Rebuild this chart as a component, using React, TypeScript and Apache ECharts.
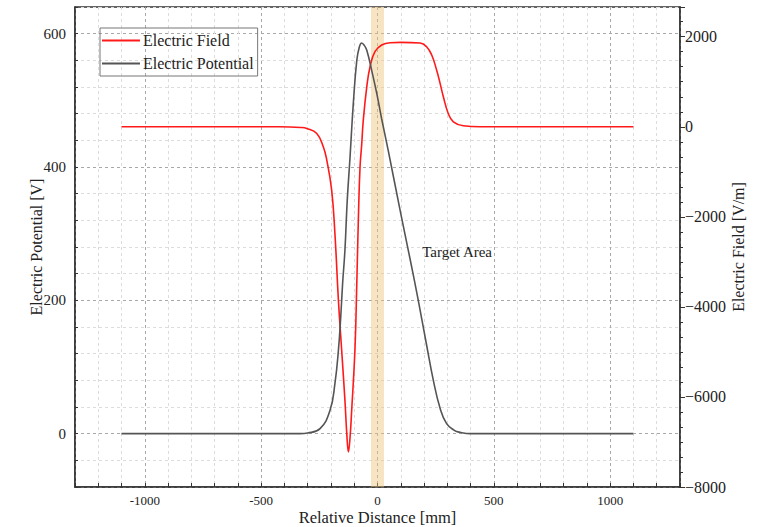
import React, { useEffect, useRef } from "react";
import * as echarts from "echarts";

const potentialX = [-1100, -400, -333, -300, -247, -204, -183, -168, -158, -150, -140, -130, -118, -104, -89, -78, -68, -56, -46, -25, -3, 18, 46, 100, 140, 173, 211, 240, 269, 297, 330, 355, 400, 1100];
const potentialV = [0, 0, 0, 1, 7.5, 35, 75, 125, 175, 225, 275, 350, 415, 495, 560, 580, 586, 582, 575, 545, 510, 472, 425, 330, 262, 204, 133, 80, 38, 15, 5, 2, 0, 0];

const fieldX = [-1100, -420, -330, -304, -261, -233, -218, -197, -183, -168, -154, -140, -132, -125, -118, -111, -97, -89, -82, -75, -68, -61, -46, -32, -11, 18, 54, 100, 183, 211, 233, 254, 269, 283, 304, 326, 369, 441, 1100];
const fieldE = [0, 0, -15, -37, -150, -444, -740, -1407, -2370, -3850, -4960, -6070, -6815, -7220, -6900, -6300, -4960, -3480, -2000, -888, -400, 150, 890, 1333, 1667, 1815, 1867, 1875, 1860, 1778, 1593, 1260, 964, 667, 296, 111, 22, 0, 0];

const xLabels = [-1000, -500, 0, 500, 1000];
const leftLabels = [0, 200, 400, 600];
const rightLabels = [-8000, -6000, -4000, -2000, 0, 2000];
const bandRange = [-28, 28];
const annotation = { text: "Target Area", x: 342, v: 272 };

const FONT = "Liberation Serif";

export default function App() {
  const ref = useRef<HTMLDivElement>(null);
  useEffect(() => {
    const chart = echarts.init(ref.current!, null, { renderer: "svg" });
    const minorC = "#dcdcdc";
    const majorC = "#a8a8a8";
    chart.setOption({
      animation: false,
      backgroundColor: "#fff",
      textStyle: { fontFamily: FONT, color: "#222" },
      grid: {
        left: 75, right: 89, top: 7, bottom: 40,
        containLabel: false, outerBoundsMode: "none",
        show: true, borderColor: "#333", borderWidth: 1.5, backgroundColor: "transparent",
      },
      legend: {
        left: 100,
        top: 28,
        orient: "vertical",
        borderColor: "#777",
        borderWidth: 1,
        padding: [3, 4, 3, 2],
        itemGap: 4,
        itemWidth: 38,
        itemHeight: 2,
        icon: "rect",
        textStyle: { fontFamily: FONT, fontSize: 16, color: "#222", padding: [0, 0, 0, -2], lineHeight: 19 },
        data: ["Electric Field", "Electric Potential"],
      },
      xAxis: {
        type: "value",
        min: -1300,
        max: 1300,
        interval: 100,
        name: "Relative Distance [mm]",
        nameLocation: "middle",
        nameGap: 22,
        nameMoveOverlap: false,
        nameTextStyle: { fontFamily: FONT, fontSize: 16.5, color: "#222" },
        axisLine: { show: true, onZero: false, lineStyle: { color: "#333", width: 1.5 } },
        axisTick: { show: true, inside: true, length: 4, lineStyle: { color: "#333" } },
        axisLabel: {
          fontFamily: FONT,
          fontSize: 13,
          color: "#222",
          margin: 7,
          formatter: (v: number) => (xLabels.includes(v) ? String(v) : ""),
        },
        splitLine: { show: true, lineStyle: { type: [3, 3], color: [minorC, minorC, minorC, majorC, minorC], width: 1 } },
      },
      yAxis: [
        {
          type: "value",
          position: "left",
          min: -80,
          max: 640,
          interval: 40,
          name: "Electric Potential [V]",
          nameLocation: "middle",
          nameGap: 31,
          nameMoveOverlap: false,
          nameTextStyle: { fontFamily: FONT, fontSize: 16, color: "#222" },
          axisLine: { show: true, onZero: false, lineStyle: { color: "#333", width: 1.5 } },
          axisTick: { show: true, inside: true, length: 3, lineStyle: { color: "#333" } },
          axisLabel: {
            fontFamily: FONT,
            fontSize: 15,
            color: "#222",
            margin: 9,
            formatter: (v: number) => (leftLabels.includes(v) ? String(v) : ""),
          },
          splitLine: { show: true, lineStyle: { type: [3, 3], color: [minorC, minorC, majorC, minorC, minorC], width: 1 } },
        },
        {
          type: "value",
          position: "right",
          min: -8000,
          max: 2660,
          interval: 2000,
          name: "Electric Field [V/m]",
          nameLocation: "middle",
          nameGap: 50,
          nameMoveOverlap: false,
          nameTextStyle: { fontFamily: FONT, fontSize: 16, color: "#222" },
          axisLine: { show: true, onZero: false, lineStyle: { color: "#333", width: 1.5 } },
          axisTick: { show: true, length: 5, lineStyle: { color: "#333" } },
          minorTick: { show: true, splitNumber: 6, length: 3, lineStyle: { color: "#333" } },
          axisLabel: {
            fontFamily: FONT,
            fontSize: 16,
            color: "#222",
            margin: 5,
            formatter: (v: number) => (rightLabels.includes(v) ? (v < 0 ? "\u2212" + Math.abs(v) : String(v)) : ""),
          },
          splitLine: { show: false },
        },
      ],
      series: [
        {
          name: "Electric Field",
          type: "line",
          yAxisIndex: 1,
          symbol: "none",
          smooth: 0.45,
          color: "#ff1a1a",
          lineStyle: { width: 1.6, color: "#ff1a1a" },
          data: fieldX.map((x, i) => [x, fieldE[i]]),
          z: 3,
        },
        {
          name: "Electric Potential",
          type: "line",
          yAxisIndex: 0,
          symbol: "none",
          smooth: 0.45,
          color: "#555555",
          lineStyle: { width: 1.6, color: "#555555" },
          data: potentialX.map((x, i) => [x, potentialV[i]]),
          z: 4,
          markArea: {
            silent: true,
            itemStyle: { color: "rgba(238,196,120,0.45)" },
            data: [[{ xAxis: bandRange[0] }, { xAxis: bandRange[1] }]],
          },
          markPoint: {
            silent: true,
            symbol: "circle",
            symbolSize: 0,
            label: { show: true, position: "inside", formatter: annotation.text, fontFamily: FONT, fontSize: 15, color: "#222" },
            data: [{ coord: [annotation.x, annotation.v] }],
          },
        },
      ],
    });
    return () => chart.dispose();
  }, []);
  return <div ref={ref} style={{ position: "fixed", left: 0, top: 0, width: 769, height: 527 }} />;
}
